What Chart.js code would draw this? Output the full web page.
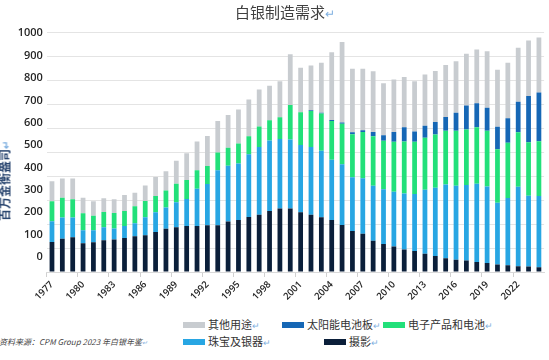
<!DOCTYPE html>
<html>
<head>
<meta charset="utf-8">
<script src="https://cdn.jsdelivr.net/npm/chart.js@4.4.1/dist/chart.umd.min.js"></script>
<style>
  body { margin: 0; background: #fff; }
  #page { position: relative; width: 549px; height: 360px; overflow: hidden; font-family: "Noto Sans CJK SC", "Noto Sans", sans-serif; }
  #c { position: absolute; left: 0; top: 0; }
  .mark { color: #7fb0e0; font-size: 0.8em; }
  #title { position: absolute; left: 235px; top: 2px; font-size: 15px; color: #404040; white-space: nowrap; line-height: 20px; }
  #ytitle { position: absolute; left: 5px; top: 181px; transform: translate(-50%, -50%) rotate(-90deg); font-size: 12px; font-weight: 700; color: #2a4670; white-space: nowrap; line-height: 14px; }
  #source { position: absolute; left: -1px; top: 336px; font-size: 8px; font-style: italic; color: #444; white-space: nowrap; line-height: 12px; }
  .item { position: absolute; font-size: 11px; color: #333; white-space: nowrap; line-height: 14px; }
  .box { display: inline-block; width: 22px; height: 6px; margin-right: 3px; vertical-align: 1px; }
</style>
</head>
<body>
<div id="page">
  <canvas id="c" width="549" height="308"></canvas>
  <div id="title">白银制造需求<span class="mark">↵</span></div>
  <div id="ytitle">百万金衡盎司<span class="mark">↵</span></div>
  <div id="source">资料来源：CPM Group 2023 年白银年鉴<span class="mark">↵</span></div>
  <div id="legend"></div>
</div>
<script>
// years 1977 - 2024
const years = [1977, 1978, 1979, 1980, 1981, 1982, 1983, 1984, 1985, 1986, 1987, 1988,
  1989, 1990, 1991, 1992, 1993, 1994, 1995, 1996, 1997, 1998, 1999, 2000,
  2001, 2002, 2003, 2004, 2005, 2006, 2007, 2008, 2009, 2010, 2011, 2012,
  2013, 2014, 2015, 2016, 2017, 2018, 2019, 2020, 2021, 2022, 2023, 2024];

// 百万金衡盎司
const photography = [125, 139, 145, 120, 124, 132, 136, 142, 149, 153, 167, 180,
  187, 192, 192, 195, 195, 211, 217, 229, 239, 255, 265, 265,
  249, 239, 228, 217, 196, 171, 160, 130, 117, 106, 94, 88,
  76, 67, 57, 51, 48, 42, 38, 31, 28, 24, 23, 20];
const jewelry = [87, 88, 82, 54, 50, 55, 45, 50, 54, 75, 82, 89,
  104, 113, 155, 172, 230, 232, 236, 262, 283, 294, 290, 288,
  281, 283, 278, 251, 254, 224, 231, 230, 228, 229, 234, 237,
  267, 284, 308, 309, 315, 326, 319, 258, 281, 332, 295, 297];
const electronics = [83, 83, 77, 71, 61, 63, 65, 62, 71, 68, 68, 71,
  77, 79, 78, 75, 74, 75, 83, 75, 85, 84, 91, 144,
  136, 150, 155, 162, 169, 180, 193, 206, 203, 208, 216, 218,
  217, 223, 224, 229, 232, 236, 232, 223, 230, 227, 223, 228];
const solar = [0, 0, 0, 0, 0, 0, 0, 0, 0, 0, 0, 0,
  0, 0, 0, 0, 0, 0, 0, 0, 0, 0, 0, 0,
  0, 3, 3, 4, 5, 8, 7, 18, 22, 41, 60, 43,
  50, 52, 58, 75, 100, 100, 96, 94, 102, 127, 193, 204];
const other = [84, 80, 86, 65, 60, 58, 57, 67, 57, 65, 79, 80,
  96, 111, 119, 125, 131, 137, 142, 154, 154, 144, 150, 211,
  186, 187, 209, 283, 336, 265, 257, 254, 217, 219, 210, 210,
  214, 213, 217, 215, 216, 224, 236, 238, 232, 226, 232, 229];

const yTicks = [0, 100, 200, 300, 400, 500, 600, 700, 800, 900, 1000];

// bottom to top
const series = [
  { label: '摄影', data: photography, color: '#0b1f3a' },
  { label: '珠宝及银器', data: jewelry, color: '#28a6e3' },
  { label: '电子产品和电池', data: electronics, color: '#22e07a' },
  { label: '太阳能电池板', data: solar, color: '#1667b5' },
  { label: '其他用途', data: other, color: '#c8ccd0' }
];

// legend is two rows under the chart, same order as the original
const legendSlots = {
  '其他用途': [183, 317], '太阳能电池板': [282, 317], '电子产品和电池': [383, 317],
  '珠宝及银器': [183, 334], '摄影': [324, 334]
};
const legend = document.getElementById('legend');
series.forEach(s => {
  const pos = legendSlots[s.label];
  const el = document.createElement('div');
  el.className = 'item';
  el.style.left = pos[0] + 'px';
  el.style.top = pos[1] + 'px';
  el.innerHTML = `<span class="box" style="background:${s.color}"></span>${s.label}<span class="mark">↵</span>`;
  legend.appendChild(el);
});

const tickFont = { family: "'Open Sans', sans-serif", weight: '600' };

new Chart(document.getElementById('c'), {
  type: 'bar',
  data: {
    labels: years.map(String),
    datasets: series.map(s => ({
      label: s.label,
      data: s.data,
      backgroundColor: s.color,
      borderWidth: 0,
      barPercentage: 0.46,
      categoryPercentage: 1
    }))
  },
  options: {
    responsive: false,
    animation: false,
    devicePixelRatio: 1,
    layout: { padding: { left: 8.8, right: 2.3, top: 32.3, bottom: 0 } },
    plugins: { legend: { display: false }, tooltip: { enabled: false } },
    scales: {
      x: {
        stacked: true,
        grid: {
          drawOnChartArea: false,
          offset: true,
          tickLength: 5,
          color: c => c.index % 3 === 0 ? '#d0d0d0' : 'rgba(0,0,0,0)'
        },
        border: { color: '#d9d9d9' },
        ticks: {
          autoSkip: false,
          minRotation: 45,
          maxRotation: 45,
          padding: 2,
          color: '#262626',
          font: { ...tickFont, size: 9.5 },
          callback: (v, i) => i % 3 === 0 ? String(years[i]) : ''
        },
        afterFit: s => { s.height = 36; }
      },
      y: {
        stacked: true,
        min: 0,
        max: 1000,
        ticks: { display: false, stepSize: 100 },
        grid: { color: '#e4e4e4', drawTicks: false },
        border: { display: false },
        afterFit: s => { s.width = 0; }
      },
      // the labels in the original sit a bit tighter than the gridlines
      yl: {
        type: 'linear',
        position: 'left',
        min: -67,
        max: 1004.5,
        grid: { display: false, drawTicks: false },
        border: { display: false },
        ticks: {
          padding: 4,
          color: '#262626',
          font: { ...tickFont, size: 11 },
          callback: v => String(v)
        },
        afterBuildTicks: s => { s.ticks = yTicks.map(v => ({ value: v })); },
        afterFit: s => { s.width = 38; }
      }
    }
  }
});
</script>
</body>
</html>
